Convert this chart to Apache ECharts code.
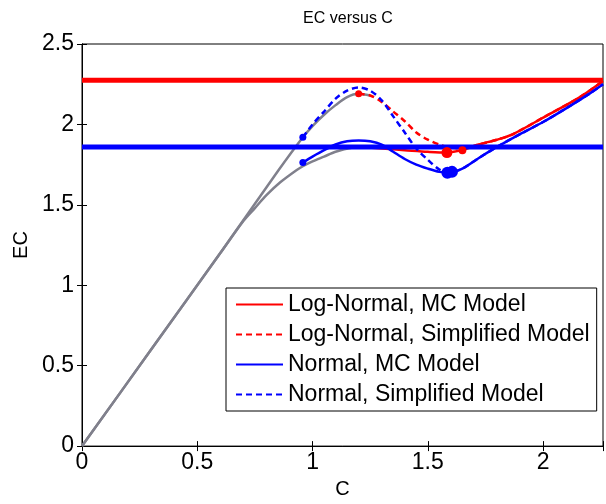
<!DOCTYPE html>
<html>
<head>
<meta charset="utf-8">
<script src="https://cdn.jsdelivr.net/npm/echarts@6/dist/echarts.min.js"></script>
<style>
  html, body { margin: 0; padding: 0; background: #fff; }
  #chart { width: 606px; height: 504px; }
</style>
</head>
<body>
<div id="chart"></div>
<script>
// values
var xTicks = [0, 0.5, 1, 1.5, 2];
var yTicks = [0, 0.5, 1, 1.5, 2, 2.5];

var greyUpperX = [0, 0.3, 0.6, 0.85, 0.958, 1.0, 1.05, 1.1, 1.15, 1.2, 1.25];
var greyUpperY = [0, 0.6, 1.2, 1.71, 1.92, 1.99, 2.06, 2.12, 2.17, 2.19, 2.18];
var greyLowerX = [0, 0.3, 0.6, 0.7, 0.75, 0.8, 0.86, 0.93, 0.958, 1.0, 1.05, 1.1, 1.17, 1.25];
var greyLowerY = [0, 0.6, 1.2, 1.40, 1.48, 1.56, 1.64, 1.715, 1.74, 1.77, 1.80, 1.83, 1.855, 1.865];

var lnMcX = [1.2, 1.3, 1.4, 1.5, 1.58, 1.66, 1.72, 1.8, 1.87, 2.01, 2.16, 2.26];
var lnMcY = [1.86, 1.85, 1.84, 1.83, 1.825, 1.845, 1.875, 1.905, 1.94, 2.05, 2.17, 2.27];
var lnSimpX = [1.2, 1.25, 1.3, 1.35, 1.4, 1.45, 1.5, 1.55, 1.6, 1.65, 1.72, 1.8, 1.87, 2.01, 2.16, 2.26];
var lnSimpY = [2.19, 2.18, 2.14, 2.08, 2.02, 1.95, 1.905, 1.875, 1.855, 1.85, 1.875, 1.905, 1.94, 2.05, 2.17, 2.27];

var nMcX = [0.958, 1.0, 1.05, 1.1, 1.15, 1.2, 1.25, 1.3, 1.35, 1.4, 1.45, 1.5, 1.55, 1.59, 1.65, 1.72, 1.8, 1.9, 2.0, 2.1, 2.2, 2.26];
var nMcY = [1.764, 1.80, 1.84, 1.875, 1.895, 1.90, 1.895, 1.875, 1.83, 1.785, 1.75, 1.725, 1.705, 1.70, 1.725, 1.79, 1.86, 1.94, 2.015, 2.10, 2.19, 2.25];
var nSimpX = [0.958, 1.0, 1.05, 1.1, 1.15, 1.2, 1.25, 1.3, 1.35, 1.4, 1.45, 1.5, 1.55, 1.59, 1.65, 1.72, 1.8, 1.9, 2.0, 2.1, 2.2, 2.26];
var nSimpY = [1.92, 2.0, 2.08, 2.16, 2.21, 2.23, 2.21, 2.15, 2.05, 1.95, 1.85, 1.78, 1.72, 1.70, 1.725, 1.79, 1.86, 1.94, 2.015, 2.10, 2.19, 2.25];

var lnLevel = 2.275;
var nLevel = 1.86;
var xEnd = 2.26;

var redDotsX = [1.2, 1.583, 1.65];
var redDotsY = [2.19, 1.825, 1.84];
var redDotsS = [7, 11, 8];
var blueDotsX = [0.958, 0.958, 1.585, 1.605];
var blueDotsY = [1.92, 1.764, 1.70, 1.705];
var blueDotsS = [7, 7, 12, 12];

function pairs(xs, ys) {
  return xs.map(function (x, i) { return [x, ys[i]]; });
}
function dots(xs, ys, ss) {
  return xs.map(function (x, i) { return { value: [x, ys[i]], symbolSize: ss[i] }; });
}

var font = 'Liberation Sans, Arial, sans-serif';
var grey = '#80808c';

var chart = echarts.init(document.getElementById('chart'));
var option = {
  animation: false,
  title: {
    text: 'EC versus C',
    left: 343,
    textAlign: 'center',
    top: 6,
    textStyle: { fontFamily: font, fontSize: 16, fontWeight: 'normal', color: '#000' }
  },
  grid: { left: 82, right: 2, top: 44, bottom: 49, show: true, borderColor: '#000', borderWidth: 1 },
  legend: {
    orient: 'vertical',
    left: 226,
    top: 288,
    padding: [5, 7, 5, 9],
    itemGap: 7,
    itemWidth: 47,
    itemHeight: 14,
    itemTextGap: 6,
    backgroundColor: '#fff',
    borderColor: '#000',
    borderWidth: 1,
    itemStyle: { opacity: 0, borderWidth: 0 },
    textStyle: { fontFamily: font, fontSize: 23, color: '#000', lineHeight: 22 },
    data: ['Log-Normal, MC Model', 'Log-Normal, Simplified Model', 'Normal, MC Model', 'Normal, Simplified Model']
  },
  xAxis: [{
    type: 'value', min: 0, max: xEnd, interval: 0.5,
    name: 'C', nameLocation: 'middle', nameGap: 30,
    nameTextStyle: { fontFamily: font, fontSize: 20, color: '#000' },
    axisLine: { lineStyle: { color: '#000' } },
    axisTick: { inside: true, length: 5, lineStyle: { color: '#000' } },
    axisLabel: {
      fontFamily: font, fontSize: 23, color: '#000', margin: 5,
      formatter: function (v) { return xTicks.indexOf(v) >= 0 ? String(v) : ''; }
    },
    splitLine: { show: false }
  }, {
    type: 'value', min: 0, max: xEnd, interval: 0.5, position: 'top',
    axisLine: { lineStyle: { color: '#000' } },
    axisTick: { inside: true, length: 5, lineStyle: { color: '#000' } },
    axisLabel: { show: false }, splitLine: { show: false }
  }],
  yAxis: [{
    type: 'value', min: 0, max: 2.5, interval: 0.5,
    name: 'EC', nameLocation: 'middle', nameGap: 50,
    nameTextStyle: { fontFamily: font, fontSize: 20, color: '#000' },
    axisLine: { show: true, lineStyle: { color: '#000' } },
    axisTick: { show: true, inside: true, length: 5, lineStyle: { color: '#000' } },
    axisLabel: {
      fontFamily: font, fontSize: 23, color: '#000', margin: 8,
      formatter: function (v) { return yTicks.indexOf(v) >= 0 ? String(v) : ''; }
    },
    splitLine: { show: false }
  }, {
    type: 'value', min: 0, max: 2.5, interval: 0.5, position: 'right',
    axisLine: { show: true, lineStyle: { color: '#000' } },
    axisTick: { show: true, inside: true, length: 5, lineStyle: { color: '#000' } },
    axisLabel: { show: false }, splitLine: { show: false }
  }],
  series: [
    { name: 'grey1', type: 'line', data: pairs(greyUpperX, greyUpperY), symbol: 'none', smooth: 0.3,
      lineStyle: { color: grey, width: 2.5 }, z: 2 },
    { name: 'grey2', type: 'line', data: pairs(greyLowerX, greyLowerY), symbol: 'none', smooth: 0.3,
      lineStyle: { color: grey, width: 2.5 }, z: 2 },
    { name: 'Log-Normal, MC Model', type: 'line', data: pairs(lnMcX, lnMcY), symbol: 'none', smooth: 0.3,
      itemStyle: { color: '#ff0000' }, lineStyle: { color: '#ff0000', width: 2.5 }, z: 3 },
    { name: 'Log-Normal, Simplified Model', type: 'line', data: pairs(lnSimpX, lnSimpY), symbol: 'none', smooth: 0.3,
      itemStyle: { color: '#ff0000' }, lineStyle: { color: '#ff0000', width: 2.5, type: [6, 4] }, z: 3 },
    { name: 'Normal, MC Model', type: 'line', data: pairs(nMcX, nMcY), symbol: 'none', smooth: 0.3,
      itemStyle: { color: '#0000ff' }, lineStyle: { color: '#0000ff', width: 2.5 }, z: 3 },
    { name: 'Normal, Simplified Model', type: 'line', data: pairs(nSimpX, nSimpY), symbol: 'none', smooth: 0.3,
      itemStyle: { color: '#0000ff' }, lineStyle: { color: '#0000ff', width: 2.5, type: [6, 4] }, z: 3 },
    { name: 'lnLevel', type: 'line', data: [[0, lnLevel], [xEnd, lnLevel]], symbol: 'none',
      lineStyle: { color: '#ff0000', width: 5 }, z: 4 },
    { name: 'nLevel', type: 'line', data: [[0, nLevel], [xEnd, nLevel]], symbol: 'none',
      lineStyle: { color: '#0000ff', width: 5 }, z: 4 },
    { name: 'redDots', type: 'scatter', data: dots(redDotsX, redDotsY, redDotsS),
      itemStyle: { color: '#ff0000', opacity: 1 }, z: 5 },
    { name: 'blueDots', type: 'scatter', data: dots(blueDotsX, blueDotsY, blueDotsS),
      itemStyle: { color: '#0000ff', opacity: 1 }, z: 5 }
  ]
};
chart.setOption(option);
</script>
</body>
</html>
